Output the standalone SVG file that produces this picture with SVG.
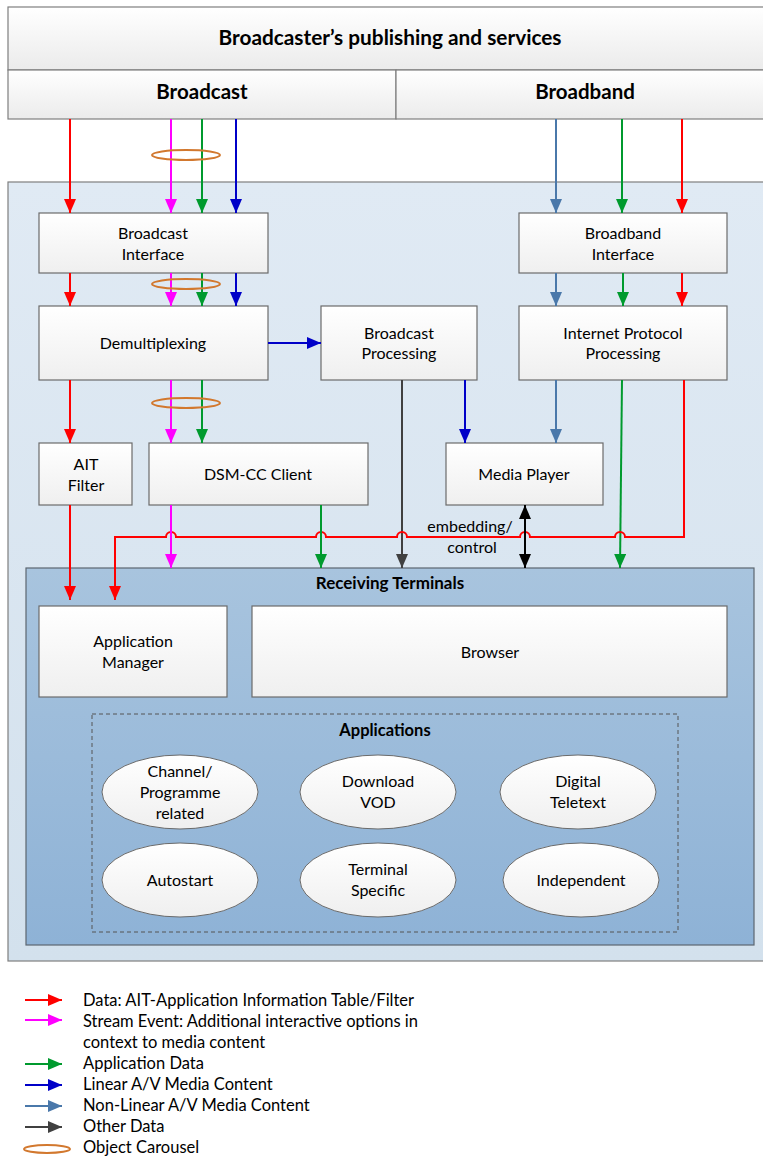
<svg xmlns="http://www.w3.org/2000/svg" width="763" height="1158" viewBox="0 0 763 1158">
<style>
text{font-family:Lato,"Open Sans","Liberation Sans",sans-serif;fill:#000;text-anchor:middle}
.n{font-size:16px}
.b{font-weight:bold}
.hdr{fill:url(#gh);stroke:#7f7f7f;stroke-width:1.2}
.box{fill:url(#gb);stroke:#6b6b6b;stroke-width:1.2}
.ell{fill:url(#gb);stroke:#6b6b6b;stroke-width:1}
.c{fill:none;stroke-width:2}
.red{stroke:#ff0000}.mag{stroke:#ff00ff}.grn{stroke:#009a2e}.blu{stroke:#0000c8}.stb{stroke:#4a78aa}.gry{stroke:#404040}.blk{stroke:#000}
.oc{fill:none;stroke:#d2782e;stroke-width:2}
.lg{font-size:16.5px;text-anchor:start}
</style>
<defs>
<linearGradient id="gh" x1="0" y1="0" x2="0" y2="1"><stop offset="0" stop-color="#ffffff"/><stop offset="1" stop-color="#ebebeb"/></linearGradient>
<linearGradient id="gb" x1="0" y1="0" x2="0" y2="1"><stop offset="0" stop-color="#ffffff"/><stop offset="1" stop-color="#efefef"/></linearGradient>
<linearGradient id="gm" x1="0" y1="0" x2="0" y2="1"><stop offset="0" stop-color="#e0eaf4"/><stop offset="1" stop-color="#d3e1ed"/></linearGradient>
<linearGradient id="gr" x1="0" y1="0" x2="0" y2="1"><stop offset="0" stop-color="#a8c4de"/><stop offset="1" stop-color="#8eb2d6"/></linearGradient>
<marker id="aR" markerUnits="userSpaceOnUse" markerWidth="14" markerHeight="12" refX="14" refY="6" orient="auto"><path d="M0,0L14,6L0,12z" fill="#ff0000"/></marker>
<marker id="aM" markerUnits="userSpaceOnUse" markerWidth="14" markerHeight="12" refX="14" refY="6" orient="auto"><path d="M0,0L14,6L0,12z" fill="#ff00ff"/></marker>
<marker id="aG" markerUnits="userSpaceOnUse" markerWidth="14" markerHeight="12" refX="14" refY="6" orient="auto"><path d="M0,0L14,6L0,12z" fill="#009a2e"/></marker>
<marker id="aB" markerUnits="userSpaceOnUse" markerWidth="14" markerHeight="12" refX="14" refY="6" orient="auto"><path d="M0,0L14,6L0,12z" fill="#0000c8"/></marker>
<marker id="aS" markerUnits="userSpaceOnUse" markerWidth="14" markerHeight="12" refX="14" refY="6" orient="auto"><path d="M0,0L14,6L0,12z" fill="#4a78aa"/></marker>
<marker id="aY" markerUnits="userSpaceOnUse" markerWidth="14" markerHeight="12" refX="14" refY="6" orient="auto"><path d="M0,0L14,6L0,12z" fill="#404040"/></marker>
<marker id="aK" markerUnits="userSpaceOnUse" markerWidth="14" markerHeight="12" refX="14" refY="6" orient="auto-start-reverse"><path d="M0,0L14,6L0,12z" fill="#000"/></marker>
</defs>

<rect x="0" y="0" width="763" height="1158" fill="#fff"/>

<g id="header">
<rect class="hdr" x="8" y="7" width="765" height="63"/>
<text class="b" x="390" y="45" font-size="20.8">Broadcaster’s publishing and services</text>
</g>
<g id="broadcast">
<rect class="hdr" x="8" y="70" width="388" height="49"/>
<text class="b" x="202" y="99" font-size="20.5">Broadcast</text>
</g>
<g id="broadband">
<rect class="hdr" x="396" y="70" width="377" height="49"/>
<text class="b" x="585" y="99" font-size="20.5">Broadband</text>
</g>

<g id="terminal-env">
<rect x="8" y="182" width="765" height="779" fill="url(#gm)" stroke="#7f7f7f" stroke-width="1.2"/>
</g>

<g id="broadcast-interface">
<rect class="box" x="39" y="213" width="229" height="60"/>
<text class="n" x="153" y="239">Broadcast</text>
<text class="n" x="153" y="260">Interface</text>
</g>
<g id="broadband-interface">
<rect class="box" x="519" y="213" width="208" height="60"/>
<text class="n" x="623" y="239">Broadband</text>
<text class="n" x="623" y="260">Interface</text>
</g>
<g id="demultiplexing">
<rect class="box" x="39" y="306" width="229" height="74"/>
<text class="n" x="153" y="349">Demultiplexing</text>
</g>
<g id="broadcast-processing">
<rect class="box" x="321" y="306" width="156" height="74"/>
<text class="n" x="399" y="339">Broadcast</text>
<text class="n" x="399" y="359">Processing</text>
</g>
<g id="ip-processing">
<rect class="box" x="519" y="306" width="208" height="74"/>
<text class="n" x="623" y="339">Internet Protocol</text>
<text class="n" x="623" y="359">Processing</text>
</g>
<g id="ait-filter">
<rect class="box" x="39" y="443" width="93" height="62"/>
<text class="n" x="86" y="470">AIT</text>
<text class="n" x="86" y="491">Filter</text>
</g>
<g id="dsmcc-client">
<rect class="box" x="149" y="443" width="219" height="62"/>
<text class="n" x="258" y="480">DSM-CC Client</text>
</g>
<g id="media-player">
<rect class="box" x="446" y="443" width="157" height="62"/>
<text class="n" x="524" y="480">Media Player</text>
</g>

<g id="receiving-terminals">
<rect x="26" y="568" width="728" height="377" fill="url(#gr)" stroke="#5c6670" stroke-width="1.2"/>
<text class="b" x="390" y="589" font-size="17">Receiving Terminals</text>
</g>
<g id="application-manager">
<rect class="box" x="39" y="606" width="188" height="91"/>
<text class="n" x="133" y="647">Application</text>
<text class="n" x="133" y="668">Manager</text>
</g>
<g id="browser">
<rect class="box" x="252" y="606" width="475" height="91"/>
<text class="n" x="490" y="658">Browser</text>
</g>
<g id="applications">
<rect x="92" y="714" width="586" height="218" fill="none" stroke="#555" stroke-width="1" stroke-dasharray="4,3"/>
<text class="b" x="385" y="736" font-size="16.5">Applications</text>
</g>
<g id="app-channel">
<ellipse class="ell" cx="180" cy="792" rx="78" ry="37"/>
<text class="n" x="180" y="777">Channel/</text>
<text class="n" x="180" y="798">Programme</text>
<text class="n" x="180" y="819">related</text>
</g>
<g id="app-vod">
<ellipse class="ell" cx="378" cy="792" rx="78" ry="37"/>
<text class="n" x="378" y="787">Download</text>
<text class="n" x="378" y="808">VOD</text>
</g>
<g id="app-teletext">
<ellipse class="ell" cx="578" cy="792" rx="78" ry="37"/>
<text class="n" x="578" y="787">Digital</text>
<text class="n" x="578" y="808">Teletext</text>
</g>
<g id="app-autostart">
<ellipse class="ell" cx="180" cy="880" rx="78" ry="37"/>
<text class="n" x="180" y="886">Autostart</text>
</g>
<g id="app-terminal">
<ellipse class="ell" cx="378" cy="880" rx="78" ry="37"/>
<text class="n" x="378" y="875">Terminal</text>
<text class="n" x="378" y="896">Specific</text>
</g>
<g id="app-independent">
<ellipse class="ell" cx="581" cy="880" rx="78" ry="37"/>
<text class="n" x="581" y="886">Independent</text>
</g>

<g id="connectors">
<line class="c red" x1="70" y1="119" x2="70" y2="213" marker-end="url(#aR)"/>
<line class="c mag" x1="171" y1="119" x2="171" y2="213" marker-end="url(#aM)"/>
<line class="c grn" x1="202" y1="119" x2="202" y2="213" marker-end="url(#aG)"/>
<line class="c blu" x1="236" y1="119" x2="236" y2="213" marker-end="url(#aB)"/>
<ellipse class="oc" cx="186" cy="155" rx="34" ry="5"/>
<line class="c red" x1="70" y1="273" x2="70" y2="306" marker-end="url(#aR)"/>
<line class="c mag" x1="171" y1="273" x2="171" y2="306" marker-end="url(#aM)"/>
<line class="c grn" x1="202" y1="273" x2="202" y2="306" marker-end="url(#aG)"/>
<line class="c blu" x1="236" y1="273" x2="236" y2="306" marker-end="url(#aB)"/>
<ellipse class="oc" cx="186" cy="284" rx="34" ry="5"/>
<line class="c blu" x1="268" y1="343" x2="321" y2="343" marker-end="url(#aB)"/>
<line class="c red" x1="70" y1="380" x2="70" y2="443" marker-end="url(#aR)"/>
<line class="c mag" x1="171" y1="380" x2="171" y2="443" marker-end="url(#aM)"/>
<line class="c grn" x1="202" y1="380" x2="202" y2="443" marker-end="url(#aG)"/>
<ellipse class="oc" cx="186" cy="403" rx="34" ry="5"/>
<line class="c stb" x1="556" y1="119" x2="556" y2="213" marker-end="url(#aS)"/>
<line class="c grn" x1="622" y1="119" x2="622" y2="213" marker-end="url(#aG)"/>
<line class="c red" x1="682" y1="119" x2="682" y2="213" marker-end="url(#aR)"/>
<line class="c stb" x1="556" y1="273" x2="556" y2="306" marker-end="url(#aS)"/>
<line class="c grn" x1="623" y1="273" x2="623" y2="306" marker-end="url(#aG)"/>
<line class="c red" x1="682" y1="273" x2="682" y2="306" marker-end="url(#aR)"/>
<line class="c blu" x1="465" y1="380" x2="465" y2="443" marker-end="url(#aB)"/>
<line class="c gry" x1="402" y1="380" x2="402" y2="568" marker-end="url(#aY)"/>
<line class="c stb" x1="556" y1="380" x2="556" y2="443" marker-end="url(#aS)"/>
<line class="c grn" x1="622" y1="380" x2="620" y2="568" marker-end="url(#aG)"/>
<path class="c red" d="M684,380V537H625a5,5 0 0 0 -10,0H530a5,5 0 0 0 -10,0H407a5,5 0 0 0 -10,0H326a5,5 0 0 0 -10,0H176a5,5 0 0 0 -10,0H115V600" marker-end="url(#aR)"/>
<line class="c red" x1="70" y1="505" x2="70" y2="600" marker-end="url(#aR)"/>
<line class="c mag" x1="171" y1="505" x2="171" y2="568" marker-end="url(#aM)"/>
<line class="c grn" x1="321" y1="505" x2="321" y2="568" marker-end="url(#aG)"/>
<line class="c blk" x1="525" y1="505" x2="525" y2="568" marker-start="url(#aK)" marker-end="url(#aK)"/>
<text class="n" x="470" y="532">embedding/</text>
<text class="n" x="472" y="553">control</text>
</g>

<g id="legend">
<line class="c red" x1="25" y1="1000" x2="62" y2="1000" marker-end="url(#aR)"/>
<line class="c mag" x1="25" y1="1020" x2="62" y2="1020" marker-end="url(#aM)"/>
<line class="c grn" x1="25" y1="1064" x2="62" y2="1064" marker-end="url(#aG)"/>
<line class="c blu" x1="25" y1="1085" x2="62" y2="1085" marker-end="url(#aB)"/>
<line class="c stb" x1="25" y1="1106" x2="62" y2="1106" marker-end="url(#aS)"/>
<line class="c gry" x1="25" y1="1127" x2="62" y2="1127" marker-end="url(#aY)"/>
<ellipse class="oc" cx="47" cy="1149" rx="23" ry="4"/>
<text class="lg" x="83" y="1006">Data: AIT-Application Information Table/Filter</text>
<text class="lg" x="83" y="1027">Stream Event: Additional interactive options in</text>
<text class="lg" x="83" y="1048">context to media content</text>
<text class="lg" x="83" y="1069">Application Data</text>
<text class="lg" x="83" y="1090">Linear A/V Media Content</text>
<text class="lg" x="83" y="1111">Non-Linear A/V Media Content</text>
<text class="lg" x="83" y="1132">Other Data</text>
<text class="lg" x="83" y="1153">Object Carousel</text>
</g>
</svg>
